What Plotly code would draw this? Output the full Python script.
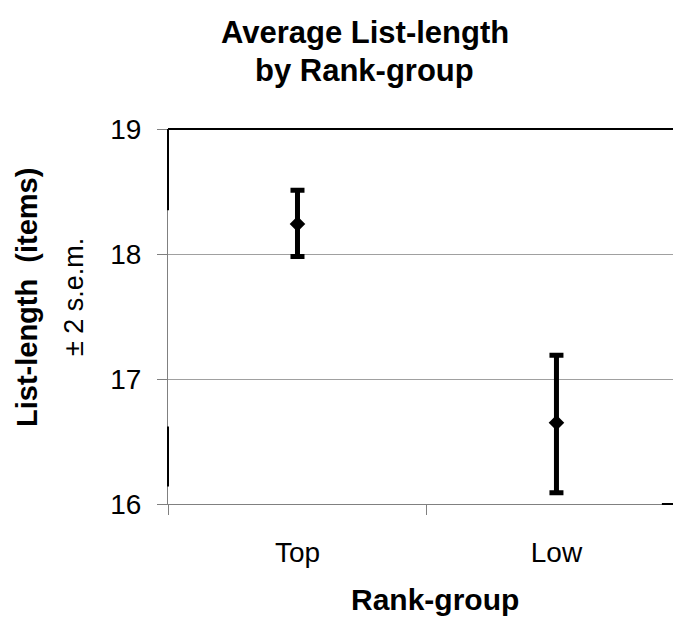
import plotly.graph_objects as go

categories = ["Top", "Low"]
means = [18.24, 16.65]
upper = [18.51, 17.19]
lower = [17.98, 16.09]
y_ticks = [16, 17, 18, 19]

err_plus = [u - m for u, m in zip(upper, means)]
err_minus = [m - l for m, l in zip(means, lower)]

FONT = "Liberation Sans, Arial, sans-serif"

fig = go.Figure()
fig.add_trace(go.Scatter(
    x=categories, y=means, mode="markers",
    marker=dict(symbol="diamond", size=12, color="black"),
    error_y=dict(type="data", symmetric=False, array=err_plus, arrayminus=err_minus,
                 color="black", thickness=5, width=7),
    showlegend=False, cliponaxis=False,
))

fig.update_layout(
    width=673, height=618,
    margin=dict(l=168, r=0, t=129, b=114),
    paper_bgcolor="white", plot_bgcolor="white",
    font=dict(family=FONT, color="black"),
    xaxis=dict(
        type="category", range=[-0.5, 1.45],
        tickson="boundaries", ticks="outside", ticklen=10, tickcolor="#808080",
        showline=True, linecolor="#808080", linewidth=1,
        showgrid=False, zeroline=False,
        tickfont=dict(size=28, family=FONT), ticklabelstandoff=23,
    ),
    yaxis=dict(
        range=[16, 19], tickvals=y_ticks, ticktext=[str(v) for v in y_ticks],
        ticks="outside", ticklen=10, tickcolor="#808080",
        showline=True, linecolor="#808080", linewidth=1,
        showgrid=True, gridcolor="#a0a0a0", gridwidth=1, zeroline=False,
        tickfont=dict(size=28, family=FONT), ticklabelstandoff=10,
    ),
    shapes=[
        dict(type="line", xref="paper", yref="paper", x0=0, x1=1, y0=1, y1=1,
             line=dict(color="black", width=2)),
        dict(type="line", xref="paper", yref="y", x0=0, x1=0, y0=19, y1=18.35,
             line=dict(color="black", width=2)),
        dict(type="line", xref="paper", yref="y", x0=0, x1=0, y0=16.62, y1=16.14,
             line=dict(color="black", width=2)),
        dict(type="line", xref="paper", yref="paper", x0=0.978, x1=1, y0=0, y1=0,
             line=dict(color="black", width=2)),
    ],
    annotations=[
        dict(text="<b>Average List-length</b>", xref="paper", yref="paper",
             x=0.39, y=(504 - 32) / 375, xanchor="center", yanchor="middle", showarrow=False,
             font=dict(size=31, family=FONT)),
        dict(text="<b>by Rank-group</b>", xref="paper", yref="paper",
             x=0.39, y=(504 - 71) / 375, xanchor="center", yanchor="middle", showarrow=False,
             font=dict(size=31, family=FONT)),
        dict(text="<b>Rank-group</b>", xref="paper", yref="paper",
             x=(435 - 168) / 505, y=(504 - 599) / 375, xanchor="center", yanchor="middle",
             showarrow=False, font=dict(size=30, family=FONT)),
        dict(text="<b>List-length  (items)</b>", xref="paper", yref="paper",
             x=(27 - 168) / 505, y=(504 - 298) / 375, xanchor="center", yanchor="middle",
             textangle=-90, showarrow=False, font=dict(size=29, family=FONT)),
        dict(text="± 2 s.e.m.", xref="paper", yref="paper",
             x=(74 - 168) / 505, y=(504 - 297) / 375, xanchor="center", yanchor="middle",
             textangle=-90, showarrow=False, font=dict(size=27, family=FONT)),
    ],
)

fig.write_html("out.html")
